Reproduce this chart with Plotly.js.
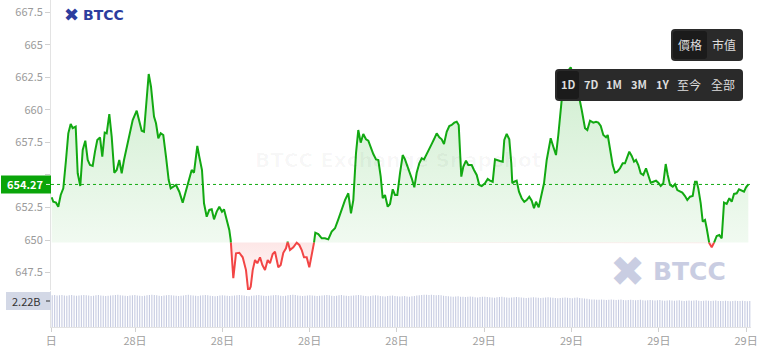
<!DOCTYPE html>
<html><head><meta charset="utf-8">
<script src="https://cdn.plot.ly/plotly-3.0.1.min.js"></script>
<style>html,body{margin:0;padding:0;background:#fff;overflow:hidden}#chart{width:762px;height:361px}</style>
</head><body><div id="chart"></div>
<script>
// ---- data (hours since window start, price) ----
const hours = [0.137,0.192,0.285,0.364,0.447,0.536,0.629,0.708,0.790,0.859,0.962,1.031,1.120,1.203,1.292,1.375,1.454,1.546,1.625,1.704,1.797,1.876,1.959,2.027,2.117,2.199,2.288,2.371,2.460,2.543,2.622,2.715,2.828,2.921,3.058,3.148,3.230,3.309,3.378,3.471,3.550,3.653,3.722,3.801,3.883,3.972,4.065,4.158,4.227,4.316,4.409,4.522,4.639,4.728,4.831,4.948,5.027,5.141,5.209,5.302,5.371,5.464,5.553,5.636,5.715,5.807,5.897,5.989,6.058,6.151,6.240,6.289,
6.378,6.471,6.584,6.701,6.814,6.893,6.976,7.045,7.124,7.203,7.296,7.375,7.467,7.560,7.639,7.732,7.811,7.924,8.007,8.096,8.189,8.247,8.326,8.440,8.557,8.646,8.729,8.807,8.900,8.990,9.072,9.151,9.196,9.299,9.416,9.529,9.642,9.759,9.873,9.986,10.103,10.216,10.330,
10.422,10.502,10.594,10.673,10.756,10.845,10.938,11.017,11.100,11.189,11.282,11.361,11.443,11.512,11.591,11.684,11.763,11.856,11.935,12.014,12.106,12.199,12.278,12.371,12.509,12.598,12.680,12.770,12.852,12.931,13.024,13.113,13.206,13.274,13.367,13.457,13.539,13.618,13.711,13.800,13.883,13.972,14.055,14.124,14.168,14.213,14.281,14.374,14.453,14.570,14.649,14.742,14.831,14.914,15.027,15.120,15.199,15.292,15.371,15.464,15.543,15.635,15.690,15.773,15.862,15.931,15.965,16.034,16.116,16.195,16.288,16.377,16.460,16.549,16.632,16.711,16.780,16.873,16.976,17.055,17.148,17.285,17.375,17.467,17.546,17.629,17.718,17.811,17.973,
18.062,18.155,18.268,18.351,18.464,18.543,18.636,18.749,18.842,18.921,19.004,19.093,19.186,19.244,19.323,19.416,19.495,19.574,19.667,19.759,19.838,19.918,19.986,20.069,20.148,20.216,20.296,20.378,20.467,20.560,20.639,20.722,20.811,20.904,20.983,21.065,21.154,21.237,21.306,21.385,21.478,21.557,21.636,21.729,21.808,21.900,21.979,22.072,22.165,22.244,22.302,22.357,22.440,22.509,22.588,22.646,22.735,22.818,22.897,22.990,23.079,23.162,23.241,23.333,23.423,23.505,23.584,23.677,23.756,23.835,23.928,23.997,24.076];
const prices = [653.28,652.94,652.87,652.56,653.46,653.97,656.15,658.20,658.92,658.59,658.71,655.13,654.15,656.92,657.63,656.15,655.76,655.69,656.79,657.69,657.89,656.40,658.25,658.20,659.68,657.94,655.17,655.38,656.15,655.13,656.15,657.17,658.20,659.22,659.94,659.22,658.40,658.32,660.51,662.76,661.78,659.48,658.97,657.82,658.20,658.07,656.40,654.61,653.97,654.10,654.23,653.71,652.87,653.59,654.36,655.38,655.17,657.23,656.40,655.38,652.82,651.79,652.31,652.36,651.59,652.18,652.56,652.18,652.36,651.54,650.77,650.00,
647.06,648.98,649.02,648.67,647.69,646.03,646.41,647.69,648.46,648.21,648.67,648.08,647.69,648.46,648.21,648.92,649.10,647.90,648.08,649.02,649.36,649.87,649.23,649.44,649.79,649.62,649.23,648.67,648.67,647.90,648.85,649.79,650.56,650.46,650.13,650.13,650.05,650.64,650.90,651.59,652.31,653.07,653.59,
652.05,653.07,656.66,658.45,657.48,658.15,657.74,657.63,657.05,656.61,656.20,656.15,654.87,653.21,653.46,652.56,652.77,653.90,653.46,653.46,655.13,656.53,656.20,655.63,654.74,654.05,655.17,655.90,656.28,656.20,656.66,657.05,657.43,657.74,658.20,657.89,657.74,657.38,658.32,658.76,658.84,659.02,659.09,658.84,657.17,654.87,655.63,656.10,655.76,655.76,655.38,655.00,654.23,654.15,654.36,654.69,654.56,654.48,656.20,656.10,656.07,656.02,657.69,658.15,657.74,655.90,654.36,654.48,654.56,653.71,653.21,652.94,653.07,653.33,653.02,652.44,652.94,652.51,653.46,654.36,656.15,657.82,657.17,656.53,658.07,659.99,662.04,662.81,663.27,
662.61,661.84,660.91,659.99,658.59,658.45,659.17,659.02,659.09,659.02,658.76,658.07,657.89,658.07,656.92,655.76,655.17,655.25,655.51,655.90,655.90,656.46,656.79,656.46,656.02,656.15,655.76,655.13,655.00,655.51,654.87,654.40,654.48,654.56,654.40,654.15,654.36,655.84,655.00,654.23,654.10,654.30,653.84,653.71,653.64,653.38,653.07,653.33,653.38,654.48,654.48,653.97,652.82,651.41,651.54,650.90,649.75,649.44,649.79,650.31,650.38,650.13,652.87,652.77,653.21,652.94,653.54,653.59,653.90,653.84,653.71,654.05,654.27];
const baseline = 649.8;
const lastPrice = 654.27;
const lastPriceText = "654.27";
const lastVolume = 2.22;
const lastVolumeText = "2.22B";
// volume (billions), one bar per 5-minute step
const volumes = [2.268,2.270,2.266,2.269,2.271,2.267,2.265,2.268,2.270,2.266,2.264,2.267,
2.269,2.271,2.268,2.266,2.263,2.265,2.268,2.270,2.267,2.265,2.262,2.264,
2.266,2.268,2.270,2.272,2.269,2.267,2.265,2.263,2.266,2.268,2.270,2.267,
2.264,2.262,2.265,2.268,2.270,2.272,2.270,2.268,2.265,2.263,2.266,2.269,
2.271,2.269,2.266,2.264,2.262,2.265,2.267,2.270,2.272,2.269,2.266,2.264,
2.263,2.266,2.268,2.270,2.268,2.265,2.262,2.260,2.263,2.266,2.268,2.266,
2.264,2.262,2.265,2.267,2.269,2.271,2.268,2.266,2.263,2.261,2.264,2.266,
2.268,2.270,2.267,2.265,2.262,2.264,2.266,2.269,2.271,2.268,2.265,2.263,
2.265,2.268,2.270,2.272,2.270,2.267,2.264,2.262,2.265,2.267,2.269,2.266,
2.264,2.262,2.264,2.267,2.269,2.271,2.268,2.265,2.263,2.265,2.268,2.270,
2.267,2.264,2.262,2.264,2.266,2.268,2.270,2.268,2.265,2.262,2.260,2.263,
2.266,2.268,2.266,2.263,2.261,2.259,2.262,2.264,2.266,2.263,2.260,2.258,
2.260,2.262,2.259,2.257,2.260,2.263,2.266,2.268,2.271,2.273,2.272,2.270,
2.272,2.271,2.269,2.270,2.268,2.265,2.262,2.260,2.258,2.256,2.258,2.260,
2.257,2.255,2.253,2.256,2.258,2.255,2.252,2.250,2.253,2.255,2.257,2.254,
2.252,2.250,2.248,2.251,2.253,2.255,2.252,2.249,2.247,2.250,2.252,2.254,
2.251,2.249,2.247,2.245,2.248,2.250,2.252,2.249,2.247,2.245,2.248,2.250,
2.252,2.250,2.247,2.245,2.243,2.246,2.248,2.250,2.248,2.246,2.244,2.247,
2.249,2.246,2.244,2.242,2.238,2.234,2.232,2.233,2.231,2.230,2.232,2.231,
2.229,2.231,2.233,2.230,2.228,2.230,2.232,2.229,2.227,2.229,2.231,2.228,
2.226,2.228,2.230,2.227,2.225,2.227,2.229,2.226,2.224,2.226,2.228,2.225,
2.223,2.225,2.227,2.224,2.222,2.224,2.226,2.223,2.221,2.223,2.225,2.222,
2.224,2.226,2.223,2.221,2.223,2.225,2.222,2.220,2.222,2.224,2.221,2.219,
2.221,2.223,2.220,2.218,2.220,2.222,2.219,2.221,2.223,2.220,2.218,2.220];
const yTickVals = [647.5,650,652.5,655,657.5,660,662.5,665,667.5];
const yTickText = ["647.5","650","652.5","","657.5","660","662.5","665","667.5"];
const xTickVals = [0.12,3,6,9,12,15,18,21,24];
const xTickText = ["日","28日","28日","28日","28日","29日","29日","29日","29日"];
const typeButtons = ["價格","市值"];
const rangeButtons = ["1D","7D","1M","3M","1Y","至今","全部"];
const logoText = "BTCC";
const watermarkText = "BTCC Exchange Snapshot";

// ---- build split series (above / below baseline) ----
const xs=[], upY=[], dnY=[], upLine=[], dnLine=[];
for (let i=0;i<hours.length;i++){
  if (i>0){
    const a=prices[i-1]-baseline, b=prices[i]-baseline;
    if ((a>0&&b<0)||(a<0&&b>0)){
      const t=a/(a-b);
      xs.push(hours[i-1]+t*(hours[i]-hours[i-1]));
      upY.push(baseline); dnY.push(baseline); upLine.push(baseline); dnLine.push(baseline);
    }
  }
  const v=prices[i];
  xs.push(hours[i]); upY.push(Math.max(v,baseline)); dnY.push(Math.min(v,baseline));
  upLine.push(v>=baseline?v:null); dnLine.push(v<=baseline?v:null);
}
const x0=xs[0], x1=xs[xs.length-1];
const maxP=Math.max(...prices), minP=Math.min(...prices);

const GREEN='#12a912', RED='#f24545';
const traces=[
 {x:[x0,x1],y:[baseline,baseline],mode:'lines',line:{width:0},hoverinfo:'skip',xaxis:'x',yaxis:'y'},
 {x:xs,y:upY,mode:'lines',line:{width:0},fill:'tonexty',fillcolor:'rgba(18,169,18,0.12)',
  fillgradient:{type:'vertical',start:baseline,stop:maxP,colorscale:[[0,'rgba(18,169,18,0.06)'],[1,'rgba(18,169,18,0.2)']]},hoverinfo:'skip',xaxis:'x',yaxis:'y'},
 {x:[x0,x1],y:[baseline,baseline],mode:'lines',line:{width:0},hoverinfo:'skip',xaxis:'x',yaxis:'y'},
 {x:xs,y:dnY,mode:'lines',line:{width:0},fill:'tonexty',fillcolor:'rgba(242,69,69,0.08)',
  fillgradient:{type:'vertical',start:minP,stop:baseline,colorscale:[[0,'rgba(242,69,69,0.02)'],[1,'rgba(242,69,69,0.13)']]},hoverinfo:'skip',xaxis:'x',yaxis:'y'},
 {x:xs,y:upLine,mode:'lines',line:{color:GREEN,width:2},connectgaps:false,xaxis:'x',yaxis:'y'},
 {x:xs,y:dnLine,mode:'lines',line:{color:RED,width:2},connectgaps:false,xaxis:'x',yaxis:'y'},
 {type:'bar',y:volumes,marker:{color:'#c6cbe1',line:{width:0}},width:0.45,xaxis:'x2',yaxis:'y2'}
];

// ---- layout helpers (pixel -> paper) ----
const PL=51, PW=700, PH=327;
const X=px=>(px-PL)/PW, Y=py=>1-py/PH;
function rr(x0,y0,x1,y1,r){
  return `M${X(x0+r)},${Y(y0)} L${X(x1-r)},${Y(y0)} Q${X(x1)},${Y(y0)} ${X(x1)},${Y(y0+r)} L${X(x1)},${Y(y1-r)} Q${X(x1)},${Y(y1)} ${X(x1-r)},${Y(y1)} L${X(x0+r)},${Y(y1)} Q${X(x0)},${Y(y1)} ${X(x0)},${Y(y1-r)} L${X(x0)},${Y(y0+r)} Q${X(x0)},${Y(y0)} ${X(x0+r)},${Y(y0)} Z`;
}
const pxPerUnit=13.01, volPerPx=0.3046/36;
const FONT='"Noto Sans CJK TC","Noto Sans CJK SC","Noto Sans",sans-serif';

const shapes=[
 {type:'line',xref:'paper',yref:'y',x0:0,x1:1,y0:lastPrice,y1:lastPrice,line:{color:GREEN,width:1,dash:'dot'},layer:'above'},
 {type:'rect',xref:'paper',yref:'y',x0:X(1),x1:X(51),y0:lastPrice-9/pxPerUnit,y1:lastPrice+9/pxPerUnit,fillcolor:'#0aa50a',line:{width:0},layer:'above'},
 {type:'rect',xref:'paper',yref:'y2',x0:X(6),x1:X(51),y0:lastVolume-9*volPerPx,y1:lastVolume+9*volPerPx,fillcolor:'#d3d8e6',line:{width:0},layer:'above'},
 {type:'line',xref:'paper',yref:'y2',x0:X(46),x1:X(50),y0:lastVolume,y1:lastVolume,line:{color:'#333',width:1},layer:'above'},
 {type:'line',xref:'paper',yref:'y',x0:X(46),x1:X(50),y0:lastPrice,y1:lastPrice,line:{color:'#e8f6e8',width:1},layer:'above'},
 {type:'path',xref:'paper',yref:'paper',path:rr(671,29,743,61,4),fillcolor:'#2a2a2a',line:{width:0},layer:'above'},
 {type:'path',xref:'paper',yref:'paper',path:rr(673,31,707,59,3),fillcolor:'#1b1b1b',line:{width:0},layer:'above'},
 {type:'path',xref:'paper',yref:'paper',path:rr(555,69,743,101,4),fillcolor:'#2a2a2a',line:{width:0},layer:'above'},
 {type:'path',xref:'paper',yref:'paper',path:rr(557,71,579,99,3),fillcolor:'#1b1b1b',line:{width:0},layer:'above'}
];

const typeX=[690,724], rangeX=[568.3,591,614,639,662.3,689.3,723.3];
function ann(px,py,text,font,xanchor){
  return {xref:'paper',yref:'paper',x:X(px),y:Y(py),text:text,showarrow:false,xanchor:xanchor||'center',yanchor:'middle',font:font};
}
const annotations=[
 ann(398,160,watermarkText,{family:'"DejaVu Sans",sans-serif',size:20,color:'rgba(0,0,0,0.03)',weight:'bold'}),
 ann(71,15,'✖',{family:'"DejaVu Sans",sans-serif',size:18,color:'#2c3d9e'}),
 ann(81,15,logoText,{family:'"DejaVu Sans",sans-serif',size:14,color:'#2c3d9e',weight:'bold'},'left'),
 ann(627.5,271,'✖',{family:'"DejaVu Sans",sans-serif',size:42,color:'#c9cde2'}),
 ann(651,271,logoText,{family:'"DejaVu Sans",sans-serif',size:25,color:'#c9cde2',weight:'bold'},'left'),
 {xref:'paper',yref:'y',x:X(25),y:lastPrice,xanchor:'center',yanchor:'middle',text:lastPriceText,showarrow:false,font:{family:FONT,size:11,color:'#ffffff',weight:'bold'}},
 {xref:'paper',yref:'y2',x:X(26),y:lastVolume,xanchor:'center',yanchor:'middle',text:lastVolumeText,showarrow:false,font:{family:FONT,size:11,color:'#333333'}}
];
typeButtons.forEach((t,i)=>annotations.push(ann(typeX[i],44.5,t,{family:FONT,size:12,color:'#dddddd'})));
rangeButtons.forEach((t,i)=>annotations.push(ann(rangeX[i],84.5,t,{family:FONT,size:i<5?11:12,color:'#dddddd',weight:i<5?'bold':'normal'})));

const layout={
 width:762,height:361,margin:{l:51,r:11,t:0,b:34,pad:0},
 paper_bgcolor:'#ffffff',plot_bgcolor:'#ffffff',showlegend:false,
 font:{family:FONT,size:11,color:'#9a9a9a'},
 xaxis:{range:[0.1134,24.168],tickvals:xTickVals,ticktext:xTickText,showgrid:false,zeroline:false,
   showline:true,linecolor:'#e3e3e3',ticks:'outside',ticklen:4,tickcolor:'#d0d0d0',anchor:'y2',
   tickfont:{family:FONT,size:11,color:'#a0a0a0'}},
 yaxis:{domain:[37/327,1],range:[646.157,668.447],tickvals:yTickVals,ticktext:yTickText,showgrid:false,zeroline:false,
   showline:true,linecolor:'#e3e3e3',ticks:'outside',ticklen:5,tickcolor:'#d0d0d0',anchor:'x',
   tickfont:{family:FONT,size:11,color:'#9a9a9a'}},
 xaxis2:{domain:[0,1],range:[-0.5,volumes.length-0.5],visible:false,anchor:'y2'},
 yaxis2:{domain:[0,36/327],range:[2.0,2.3046],showgrid:false,zeroline:false,showline:true,linecolor:'#e3e3e3',
   showticklabels:false,ticks:'',anchor:'x2'},
 bargap:0.5,shapes:shapes,annotations:annotations
};
Plotly.newPlot('chart',traces,layout,{staticPlot:true,displayModeBar:false});
</script></body></html>
